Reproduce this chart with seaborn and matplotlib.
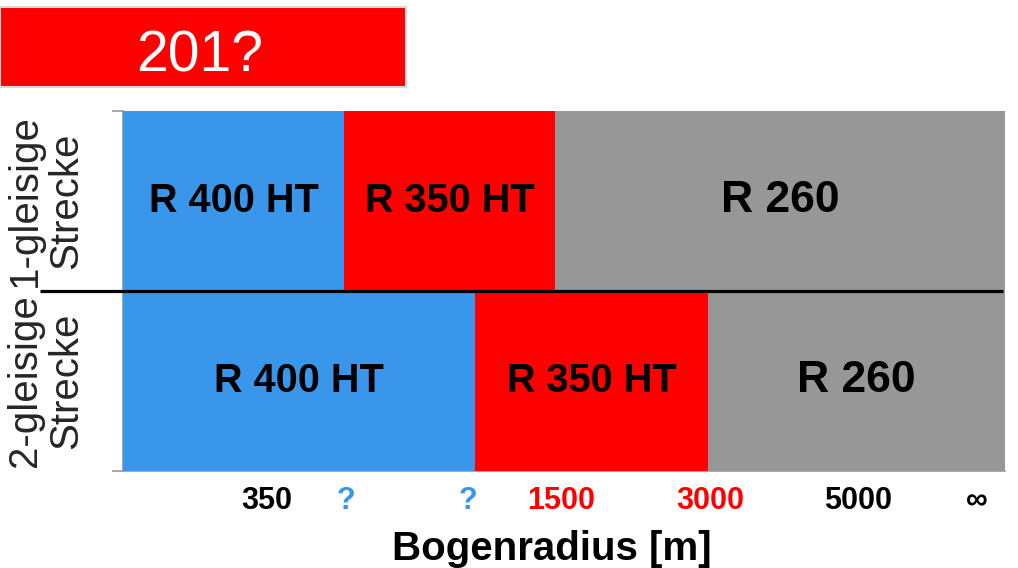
import matplotlib
matplotlib.use("Agg")
import matplotlib.pyplot as plt
from matplotlib.patches import Rectangle
import matplotlib.transforms as mtransforms
import numpy as np
import pandas as pd
import seaborn as sns

# Track types (rows) and the curve-radius zones per row, as positions along the axis (0-100)
tracks = ["1-gleisige\nStrecke", "2-gleisige\nStrecke"]
segment_names = ["R 400 HT", "R 350 HT", "R 260"]
segment_colors = ["#3A96EA", "#FF0000", "#979797"]
segment_ends_1 = [25.1, 49.0, 100.0]   # 1-gleisige Strecke
segment_ends_2 = [39.9, 66.3, 100.0]   # 2-gleisige Strecke
label_sizes = [28.5, 28.5, 32]

# Bogenradius tick marks along the axis
tick_positions = [16.3, 25.3, 39.1, 49.7, 66.6, 83.3, 96.8]
tick_labels = ["350", "?", "?", "1500", "3000", "5000", "\u221e"]
tick_colors = ["black", "#3A96EA", "#3A96EA", "#FF0000", "#FF0000", "black", "black"]

title_text = "201?"
x_title = "Bogenradius [m]"

sns.set_theme(style="white")
plt.rcParams["font.family"] = ["Liberation Sans", "DejaVu Sans"]

fig = plt.figure(figsize=(10.18, 5.68), dpi=100)
ax = fig.add_axes([123 / 1018, 1 - 471 / 568, 882 / 1018, 360 / 568])

# Stacked zones drawn as overlapping cumulative bars, widest first
ends = np.array([segment_ends_1, segment_ends_2])
for i in reversed(range(len(segment_names))):
    df = pd.DataFrame({"track": tracks, "end": ends[:, i]})
    sns.barplot(data=df, x="end", y="track", order=tracks, color=segment_colors[i],
                width=1.0, errorbar=None, orient="y", saturation=1, ax=ax, zorder=2,
                edgecolor="none", linewidth=0)

# Zone names in the middle of each segment
starts = np.hstack([np.zeros((2, 1)), ends[:, :-1]])
for r in range(len(tracks)):
    for i, name in enumerate(segment_names):
        xm = (starts[r, i] + ends[r, i]) / 2
        ax.text(xm, r, name, ha="center", va="center", fontsize=label_sizes[i],
                fontweight="bold", color="black", zorder=5)

ax.set_xlim(0, 100)
ax.set_ylim(1.5, -0.5)

# Divider between the two track types, reaching into the label area
trans = mtransforms.blended_transform_factory(ax.transAxes, ax.transData)
ax.plot([-0.094, 0.998], [0.5, 0.5], color="black", lw=2.3, transform=trans,
        clip_on=False, zorder=6, solid_capstyle="butt")

# Y axis: edge ticks only, row names as minor labels
ax.set_yticks([-0.5, 1.5], labels=["", ""])
ax.set_yticks([0, 1], labels=tracks, minor=True)
ax.tick_params(axis="y", which="major", left=True, length=8, width=1.2, color="#9a9a9a")
ax.tick_params(axis="y", which="minor", left=True, length=0, pad=27, labelsize=29,
               labelrotation=90)
for lbl in ax.get_yticklabels(minor=True):
    lbl.set_multialignment("center")
    lbl.set_linespacing(1.12)
    lbl.set_va("center")
ax.set_ylabel("")

# X axis: Bogenradius labels
ax.set_xticks(tick_positions, labels=tick_labels)
ax.tick_params(axis="x", length=0, pad=11, labelsize=22)
for lbl, c in zip(ax.get_xticklabels(), tick_colors):
    lbl.set_color(c)
    lbl.set_fontweight("bold")
ax.set_xlabel(x_title, fontsize=29, fontweight="bold", color="black")
ax.xaxis.set_label_coords(0.486, -0.165)

for side in ["top", "right"]:
    ax.spines[side].set_visible(False)
for side in ["left", "bottom"]:
    ax.spines[side].set_color("#9a9a9a")
    ax.spines[side].set_linewidth(1.2)
    ax.spines[side].set_zorder(1)

# Year box in the upper left corner
fig.patches.append(Rectangle((0, 1 - 87 / 568), 406 / 1018, 80 / 568,
                             transform=fig.transFigure, facecolor="#FF0000",
                             edgecolor="#d3dada", lw=1.5, zorder=1))
fig.text(200 / 1018, 1 - 56 / 568, title_text, ha="center", va="center",
         fontsize=41, color="white")

fig.savefig("out.png", dpi=100)
